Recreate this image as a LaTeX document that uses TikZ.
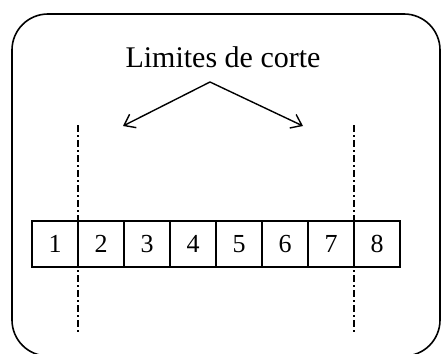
\documentclass[tikz,border=0pt]{standalone}
\usepackage{fontspec}
\setmainfont{Liberation Serif}
\usetikzlibrary{arrows.meta,positioning}
\tikzset{
  frame/.style={draw=black, line width=1.6pt, rounded corners=36pt},
  cell/.style={draw=black, line width=1.4pt, minimum width=46pt, minimum height=46pt, inner sep=0pt, font=\fontsize{26}{26}\selectfont},
  label/.style={font=\fontsize{30}{31}\selectfont, inner sep=0pt},
  arrow/.style={-{Straight Barb[length=10pt,width=15pt]}, line width=1.4pt},
  cutline/.style={line width=1.6pt, dash pattern=on 7pt off 3pt on 2pt off 3pt}
}
\begin{document}
\begin{tikzpicture}[x=1pt, y=-1pt]
\useasboundingbox (0,0) rectangle (441,353);
\draw[frame] (12,14) rectangle (440,356);
\node[label] (title) at (223,57) {Limites de corte};
\coordinate (apex) at (210,82);
\coordinate (left) at (123,126);
\coordinate (right) at (303,126);
\draw[arrow] (apex) -- (left);
\draw[arrow] (apex) -- (right);
% cells of the row
\foreach \i in {1,...,8}
  \node[cell] (c\i) at ({9+46*\i},244) {\i};
% cut limits
\coordinate (cutAtop) at (78,125);
\coordinate (cutAbot) at (78,334);
\coordinate (cutBtop) at (354,125);
\coordinate (cutBbot) at (354,334);
\draw[cutline] (cutAtop) -- (cutAbot);
\draw[cutline] (cutBtop) -- (cutBbot);
\end{tikzpicture}
\end{document}
